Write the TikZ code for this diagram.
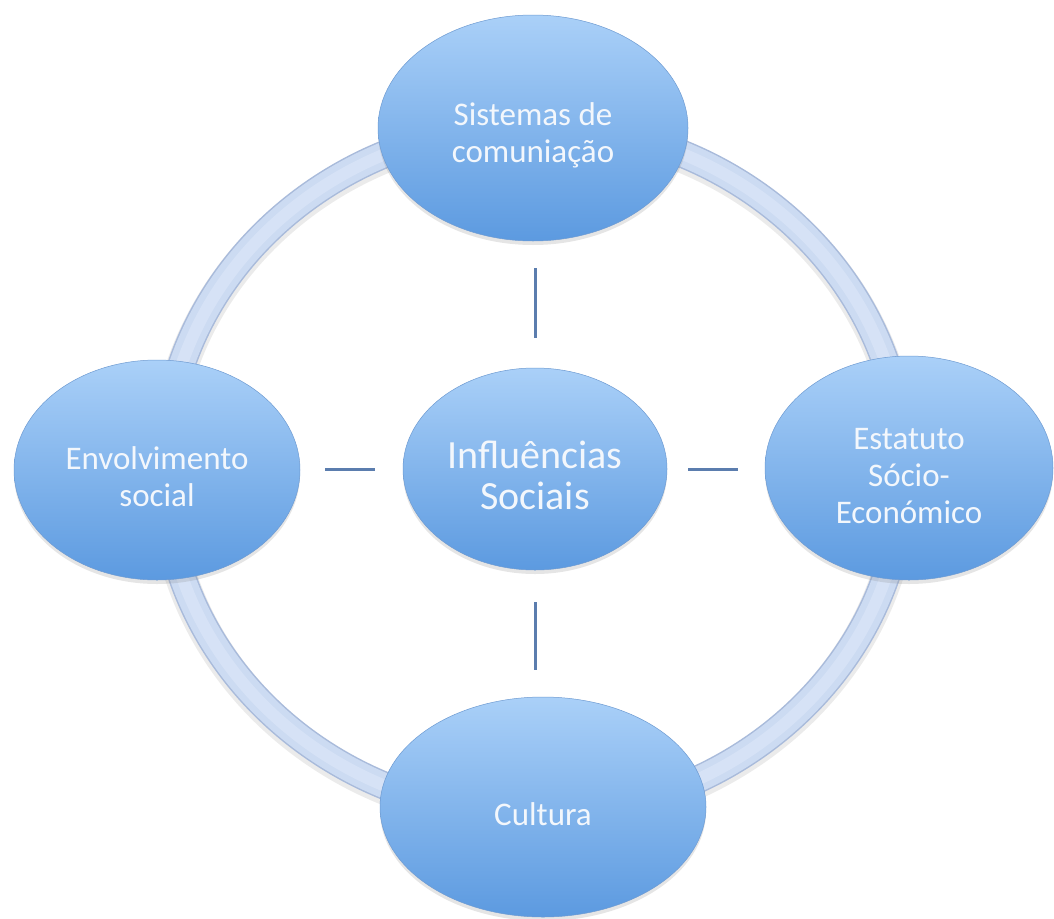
\documentclass[tikz,border=0pt]{standalone}
\usepackage{fontspec}
\setmainfont{Carlito}
\usetikzlibrary{shapes.geometric,shadows}
\definecolor{ringfill}{HTML}{CCDBF2}
\definecolor{ringedge}{HTML}{A9BBDB}
\definecolor{ringhi}{HTML}{D6E2F6}
\definecolor{elltop}{HTML}{AAD0F8}
\definecolor{ellbot}{HTML}{5C9AE0}
\definecolor{ellrim}{HTML}{6E9BD2}
\definecolor{linkcol}{HTML}{5B7DAE}
\definecolor{txt}{HTML}{F3F7FC}
\begin{document}
\begin{tikzpicture}[x=1pt,y=-1pt,
  bubble/.style={ellipse, inner sep=0pt, draw=ellrim, line width=0.5pt,
    top color=elltop, bottom color=ellbot,
    drop shadow={opacity=0.20, shadow xshift=0pt, shadow yshift=-4pt}},
  lbl/.style={text=txt, align=center, font=\fontsize{33}{37}\selectfont},
  biglbl/.style={text=txt, align=center, font=\fontsize{40}{41}\selectfont},
  link/.style={draw=linkcol, line width=3pt},
  ringshadow/.style={draw=black, opacity=0.08, line width=32pt},
  ringedgestyle/.style={draw=ringedge, line width=28pt},
  ringbody/.style={draw=ringfill, line width=25pt},
  ringlight/.style={draw=ringhi, line width=12pt}]
\useasboundingbox (0,0) rectangle (1054,918);
\fill[white] (0,0) rectangle (1054,918);
\coordinate (o) at (534,470);
% ring
\draw[ringshadow] ([yshift=-3pt]o) ellipse [x radius=370pt, y radius=345pt];
\draw[ringedgestyle] (o) ellipse [x radius=370pt, y radius=345pt];
\draw[ringbody] (o) ellipse [x radius=370pt, y radius=345pt];
\draw[ringlight] (o) ellipse [x radius=370pt, y radius=345pt];
% nodes
\node[bubble, minimum width=264pt, minimum height=202pt,
  label={[biglbl,yshift=-6pt]center:{Influências\\Sociais}}] (c) at (535,469) {};
\node[bubble, minimum width=310pt, minimum height=226pt,
  label={[lbl,yshift=-7pt]center:{Sistemas de\\comuniação}}] (t) at (533,128) {};
\node[bubble, minimum width=286pt, minimum height=220pt,
  label={[lbl,yshift=-7pt]center:{Envolvimento\\social}}] (l) at (157,470) {};
\node[bubble, minimum width=288pt, minimum height=224pt,
  label={[lbl,yshift=-8pt]center:{Estatuto\\Sócio-\\Económico}}] (r) at (909,468) {};
\node[bubble, minimum width=326pt, minimum height=220pt,
  label={[lbl,yshift=-7pt]center:{Cultura}}] (b) at (543,807) {};
% links
\draw[link, shorten <=30pt, shorten >=27pt] (c.north) -- (c.north |- t.south);
\draw[link, shorten <=32pt, shorten >=27pt] (c.south) -- (c.south |- b.north);
\draw[link, shorten <=28pt, shorten >=25pt] (c.west) -- (c.west -| l.east);
\draw[link, shorten <=21pt, shorten >=27pt] (c.east) -- (c.east -| r.west);
\end{tikzpicture}
\end{document}
